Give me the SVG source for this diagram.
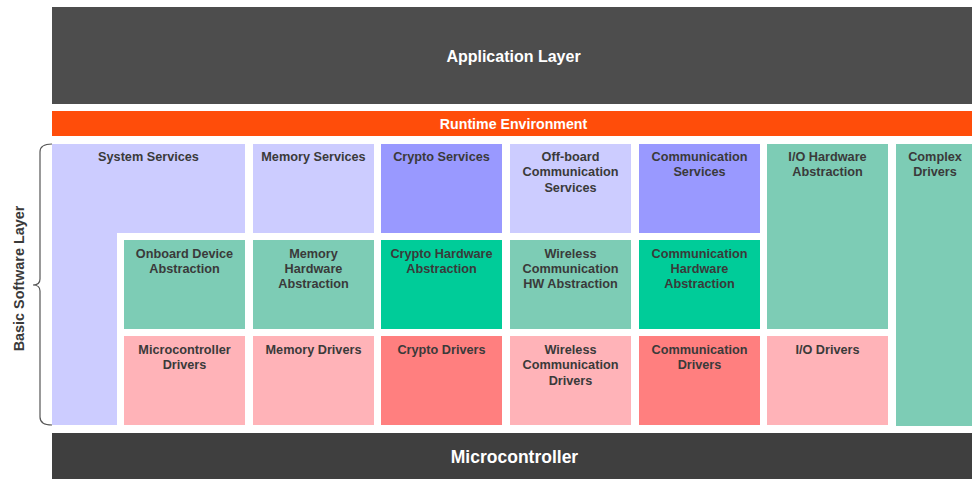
<svg xmlns="http://www.w3.org/2000/svg" width="972" height="479" viewBox="0 0 972 479">
  <style>
    .lbl { font-family: "Liberation Sans", Arial, sans-serif; font-weight: bold; font-size: 12.7px; fill: #3a3a3a; text-anchor: middle; }
    .side { font-size: 14.4px; }
    .band { font-family: "Liberation Sans", Arial, sans-serif; font-weight: bold; fill: #ffffff; text-anchor: middle; }
    .lav { fill: #ccccff; }
    .pur { fill: #9999ff; }
    .lgr { fill: #7dccb5; }
    .dgr { fill: #00cc99; }
    .pnk { fill: #ffb3b8; }
    .red { fill: #ff7f7f; }
  </style>

  <!-- top and bottom bands -->
  <g id="application-layer">
    <rect x="52" y="7" width="923" height="97" fill="#4d4d4d"/>
    <text class="band" x="513.5" y="62" font-size="16">Application Layer</text>
  </g>
  <g id="runtime-environment">
    <rect x="52" y="111" width="923" height="25" fill="#ff4d0a"/>
    <text class="band" x="513.5" y="129" font-size="14.2">Runtime Environment</text>
  </g>
  <g id="microcontroller">
    <rect x="52" y="433" width="923" height="46" fill="#3f3f3f"/>
    <text class="band" x="514.5" y="463" font-size="17.5">Microcontroller</text>
  </g>

  <!-- side brace for the basic software layer -->
  <g id="bsw-label">
    <path d="M52,144 Q40,144 40,152 L40,279 Q40,285 33,285 Q40,285 40,291 L40,417 Q40,425 52,425" fill="none" stroke="#555555" stroke-width="1.2"/>
    <text class="lbl side" transform="translate(24,278.5) rotate(-90)">Basic Software Layer</text>
  </g>

  <!-- services row -->
  <g id="system-services">
    <path class="lav" d="M52,144 H245 V233 H117 V425 H52 Z"/>
    <text class="lbl" x="148.5" y="161">System Services</text>
  </g>
  <g id="memory-services">
    <rect class="lav" x="253" y="144" width="121" height="89"/>
    <text class="lbl" x="313.5" y="161">Memory Services</text>
  </g>
  <g id="crypto-services">
    <rect class="pur" x="381" y="144" width="121" height="89"/>
    <text class="lbl" x="441.5" y="161">Crypto Services</text>
  </g>
  <g id="offboard-communication-services">
    <rect class="lav" x="510" y="144" width="121" height="89"/>
    <text class="lbl" x="570.5" y="161">Off-board</text>
    <text class="lbl" x="570.5" y="176.3">Communication</text>
    <text class="lbl" x="570.5" y="191.6">Services</text>
  </g>
  <g id="communication-services">
    <rect class="pur" x="639" y="144" width="121" height="89"/>
    <text class="lbl" x="699.5" y="161">Communication</text>
    <text class="lbl" x="699.5" y="176.3">Services</text>
  </g>
  <g id="io-hardware-abstraction">
    <rect class="lgr" x="767" y="144" width="121" height="185"/>
    <text class="lbl" x="827.5" y="161">I/O Hardware</text>
    <text class="lbl" x="827.5" y="176.3">Abstraction</text>
  </g>
  <g id="complex-drivers">
    <rect class="lgr" x="896" y="144" width="79" height="282"/>
    <text class="lbl" x="935" y="161">Complex</text>
    <text class="lbl" x="935" y="176.3">Drivers</text>
  </g>

  <!-- hardware abstraction row -->
  <g id="onboard-device-abstraction">
    <rect class="lgr" x="124" y="240" width="121" height="89"/>
    <text class="lbl" x="184.5" y="257.5">Onboard Device</text>
    <text class="lbl" x="184.5" y="272.8">Abstraction</text>
  </g>
  <g id="memory-hardware-abstraction">
    <rect class="lgr" x="253" y="240" width="121" height="89"/>
    <text class="lbl" x="313.5" y="257.5">Memory</text>
    <text class="lbl" x="313.5" y="272.8">Hardware</text>
    <text class="lbl" x="313.5" y="288.1">Abstraction</text>
  </g>
  <g id="crypto-hardware-abstraction">
    <rect class="dgr" x="381" y="240" width="121" height="89"/>
    <text class="lbl" x="441.5" y="257.5">Crypto Hardware</text>
    <text class="lbl" x="441.5" y="272.8">Abstraction</text>
  </g>
  <g id="wireless-communication-hw-abstraction">
    <rect class="lgr" x="510" y="240" width="121" height="89"/>
    <text class="lbl" x="570.5" y="257.5">Wireless</text>
    <text class="lbl" x="570.5" y="272.8">Communication</text>
    <text class="lbl" x="570.5" y="288.1">HW Abstraction</text>
  </g>
  <g id="communication-hardware-abstraction">
    <rect class="dgr" x="639" y="240" width="121" height="89"/>
    <text class="lbl" x="699.5" y="257.5">Communication</text>
    <text class="lbl" x="699.5" y="272.8">Hardware</text>
    <text class="lbl" x="699.5" y="288.1">Abstraction</text>
  </g>

  <!-- drivers row -->
  <g id="microcontroller-drivers">
    <rect class="pnk" x="124" y="336" width="121" height="89"/>
    <text class="lbl" x="184.5" y="354">Microcontroller</text>
    <text class="lbl" x="184.5" y="369.3">Drivers</text>
  </g>
  <g id="memory-drivers">
    <rect class="pnk" x="253" y="336" width="121" height="89"/>
    <text class="lbl" x="313.5" y="354">Memory Drivers</text>
  </g>
  <g id="crypto-drivers">
    <rect class="red" x="381" y="336" width="121" height="89"/>
    <text class="lbl" x="441.5" y="354">Crypto Drivers</text>
  </g>
  <g id="wireless-communication-drivers">
    <rect class="pnk" x="510" y="336" width="121" height="89"/>
    <text class="lbl" x="570.5" y="354">Wireless</text>
    <text class="lbl" x="570.5" y="369.3">Communication</text>
    <text class="lbl" x="570.5" y="384.6">Drivers</text>
  </g>
  <g id="communication-drivers">
    <rect class="red" x="639" y="336" width="121" height="89"/>
    <text class="lbl" x="699.5" y="354">Communication</text>
    <text class="lbl" x="699.5" y="369.3">Drivers</text>
  </g>
  <g id="io-drivers">
    <rect class="pnk" x="767" y="336" width="121" height="89"/>
    <text class="lbl" x="827.5" y="354">I/O Drivers</text>
  </g>

  <!-- no connectors in this layer stack -->
  <g id="connectors"/>
</svg>
